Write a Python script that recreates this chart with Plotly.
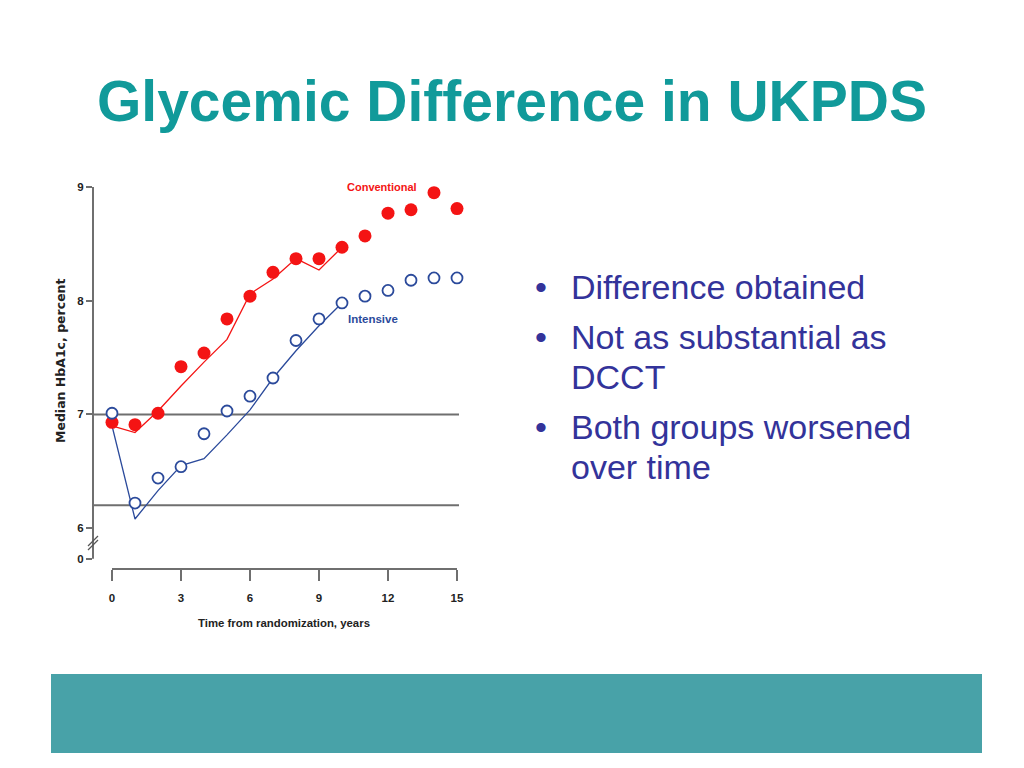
import plotly.graph_objects as go

# --- data ---
years = list(range(16))
conventional = [6.93, 6.91, 7.01, 7.42, 7.54, 7.84, 8.04, 8.25, 8.37, 8.37,
                8.47, 8.57, 8.77, 8.80, 8.95, 8.81]
intensive = [7.01, 6.22, 6.44, 6.54, 6.83, 7.03, 7.16, 7.32, 7.65, 7.84,
             7.98, 8.04, 8.09, 8.18, 8.20, 8.20]

fit_years = list(range(11))
conventional_fit = [6.90, 6.84, 7.03, 7.25, 7.46, 7.66, 8.06, 8.19, 8.37, 8.27, 8.47]
intensive_fit = [6.90, 6.08, 6.33, 6.55, 6.61, 6.82, 7.04, 7.32, 7.56, 7.78, 7.98]

ref_levels = [7.0, 6.2]

x_ticks = [0, 3, 6, 9, 12, 15]
y_ticks = [5.73, 6, 7, 8, 9]          # 5.73 = position of the broken-axis "0"
y_ticktext = ["0", "6", "7", "8", "9"]

title = "Glycemic Difference in UKPDS"
bullets = [
    ["Difference obtained"],
    ["Not as substantial as", "DCCT"],
    ["Both groups worsened", "over time"],
]

# --- geometry: screen pixels on the 1024x768 slide ---
# the page body has an 8px margin, so figure coords = screen - 8
OFF = 8
W, H = 1024, 768
L, R, T, B = 93, 470, 180, 569


def px(x):
    return (x - L) / (R - L)


def py(y):
    return (B - y) / (B - T)


RED = "#f41414"
BLUE = "#2b4a9b"
GREY = "#6f6f6f"
TEAL = "#119a9a"
TEXT = "#33339a"

fig = go.Figure()

fig.add_trace(go.Scatter(
    x=fit_years, y=conventional_fit, mode="lines",
    line=dict(color=RED, width=1.3), hoverinfo="skip", showlegend=False))
fig.add_trace(go.Scatter(
    x=fit_years, y=intensive_fit, mode="lines",
    line=dict(color=BLUE, width=1.3), hoverinfo="skip", showlegend=False))
fig.add_trace(go.Scatter(
    x=years, y=conventional, mode="markers", name="Conventional",
    marker=dict(color=RED, size=13, line=dict(width=0)), showlegend=False))
fig.add_trace(go.Scatter(
    x=years, y=intensive, mode="markers", name="Intensive",
    marker=dict(color="white", size=11, line=dict(color=BLUE, width=1.8)),
    showlegend=False))

shapes = []
# reference lines
for lv in ref_levels:
    shapes.append(dict(type="line", xref="paper", yref="y", x0=0, x1=px(459),
                       y0=lv, y1=lv, line=dict(color=GREY, width=2), layer="below"))
# y axis line (stops at the "0" tick)
shapes.append(dict(type="line", xref="paper", yref="y", x0=0, x1=0,
                   y0=y_ticks[0], y1=y_ticks[-1], line=dict(color=GREY, width=2)))
# x axis line
shapes.append(dict(type="line", xref="x", yref="paper", x0=x_ticks[0], x1=x_ticks[-1],
                   y0=0, y1=0, line=dict(color=GREY, width=2)))
# axis break marks
for off in (0, 4):
    shapes.append(dict(type="line", xref="paper", yref="paper",
                       x0=px(88), x1=px(98), y0=py(546 + off), y1=py(536 + off),
                       line=dict(color="#555555", width=1.2)))
# footer band
shapes.append(dict(type="rect", xref="paper", yref="paper",
                   x0=px(51), x1=px(982), y0=py(753), y1=py(674),
                   fillcolor="#48a2a8", line=dict(width=0)))

annotations = [
    dict(text=title, x=px(512), y=py(101), xref="paper", yref="paper",
         showarrow=False, xanchor="center", yanchor="middle",
         font=dict(family="Liberation Sans", size=57, color=TEAL, weight="bold")),
    dict(text="Conventional", x=px(382), y=py(187), xref="paper", yref="paper",
         showarrow=False, xanchor="center", yanchor="middle",
         font=dict(family="Liberation Sans", size=11, color=RED, weight="bold")),
    dict(text="Intensive", x=px(373), y=py(319), xref="paper", yref="paper",
         showarrow=False, xanchor="center", yanchor="middle",
         font=dict(family="Liberation Sans", size=11.5, color=BLUE, weight="bold")),
    dict(text="Time from randomization, years", x=px(284), y=py(623),
         xref="paper", yref="paper", showarrow=False,
         xanchor="center", yanchor="middle",
         font=dict(family="Liberation Sans", size=11.4, color="#222222", weight="bold")),
    dict(text="Median HbA1c, percent", x=px(60), y=py(361), xref="paper", yref="paper",
         showarrow=False, textangle=-90, xanchor="center", yanchor="middle",
         font=dict(family="DejaVu Sans", size=12.5, color="#222222", weight="bold")),
]

# bullet list
baseline = 298
for i, item in enumerate(bullets):
    for j, line in enumerate(item):
        if j == 0:
            annotations.append(dict(
                text="\u2022", x=px(541), y=py(baseline - 11), xref="paper", yref="paper",
                showarrow=False, xanchor="center", yanchor="middle",
                font=dict(family="Liberation Sans", size=34, color=TEXT)))
        annotations.append(dict(
            text=line, x=px(569), y=py(baseline - 11), xref="paper", yref="paper",
            showarrow=False, xanchor="left", yanchor="middle",
            font=dict(family="Liberation Sans", size=34, color=TEXT)))
        baseline += 40
    baseline += 10

fig.update_layout(
    width=W, height=H,
    margin=dict(l=L - OFF, r=W - (R - OFF), t=T - OFF, b=H - (B - OFF), pad=0),
    paper_bgcolor="white", plot_bgcolor="white",
    xaxis=dict(range=[(L - 112) / 23.0, (R - 112) / 23.0], tickvals=x_ticks,
               anchor="free", position=0, showline=False, showgrid=False,
               zeroline=False, ticks="outside", ticklen=11, tickwidth=2,
               tickcolor=GREY, ticklabelstandoff=7,
               tickfont=dict(family="Liberation Sans", size=11.5, color="#222222",
                             weight="bold")),
    yaxis=dict(range=[9 - (B - 187) / 113.7, 9 + (187 - T) / 113.7],
               tickvals=y_ticks, ticktext=y_ticktext, showline=False,
               showgrid=False, zeroline=False, ticks="outside", ticklen=6,
               tickwidth=2, tickcolor=GREY,
               tickfont=dict(family="Liberation Sans", size=11.5, color="#222222",
                             weight="bold")),
    shapes=shapes,
    annotations=annotations,
)

fig.write_html("out.html")
